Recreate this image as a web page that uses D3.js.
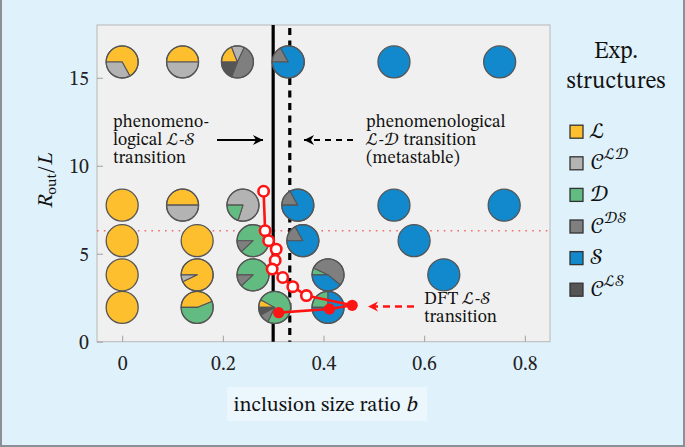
<!DOCTYPE html>
<html><head><meta charset="utf-8">
<script src="https://cdn.jsdelivr.net/npm/d3@7"></script>
<style>body{margin:0;background:#dff1fb;} svg{display:block;}</style>
</head><body>
<svg id="c" width="685" height="447"></svg>
<script>
// ---------- data ----------
const structures = ["ℒ", "𝒞ℒ𝒟", "𝒟", "𝒞𝒟𝒮", "𝒮", "𝒞ℒ𝒮"];
const structureKeys = ["L", "CLD", "D", "CDS", "S", "CLS"];
const colors = ["#fdbf2e", "#b3b3b3", "#62bb80", "#7f7f7f", "#1189cc", "#555555"];
// pie positions (b, R_out/L) and fractions [L, CLD, D, CDS, S, CLS]
const pieB = [0, 0.12, 0.229, 0.33, 0.54, 0.75,
              0, 0.12, 0.24, 0.349, 0.54, 0.759,
              0, 0.149, 0.26, 0.359, 0.58,
              0, 0.149, 0.26, 0.409, 0.639,
              0, 0.149, 0.303, 0.409];
const pieR = [15.9, 15.9, 15.9, 15.9, 15.9, 15.9,
              7.76, 7.76, 7.76, 7.76, 7.76, 7.76,
              5.74, 5.74, 5.74, 5.74, 5.74,
              3.8, 3.8, 3.8, 3.8, 3.8,
              1.95, 1.95, 1.95, 1.95];
const pieFractions = [
  [0.67,0.33,0,0,0,0], [0.5,0.5,0,0,0,0], [0.19,0.13,0,0.49,0,0.19], [0,0,0,0.17,0.83,0], [0,0,0,0,1,0], [0,0,0,0,1,0],
  [1,0,0,0,0,0], [0.5,0.5,0,0,0,0], [0,0.8,0.2,0,0,0], [0,0,0,0.17,0.83,0], [0,0,0,0,1,0], [0,0,0,0,1,0],
  [1,0,0,0,0,0], [1,0,0,0,0,0], [0,0,0.88,0.12,0,0], [0,0,0,0.17,0.83,0], [0,0,0,0,1,0],
  [1,0,0,0,0,0], [0.93,0.07,0,0,0,0], [0,0,0.88,0.12,0,0], [0,0,0.07,0.54,0.39,0], [0,0,0,0,1,0],
  [1,0,0,0,0,0], [0.44,0,0.56,0,0,0], [0.08,0,0.74,0.1,0,0.08], [0,0,0.25,0,0.75,0]
];
// DFT L-S transition curve
const dftOpenB = [0.281, 0.284, 0.291, 0.306, 0.304, 0.298, 0.319, 0.339, 0.366];
const dftOpenR = [8.55, 6.31, 5.74, 5.26, 4.62, 4.13, 3.65, 3.13, 2.62];
const dftFilledB = [0.457, 0.412, 0.311];
const dftFilledR = [2.07, 1.86, 1.65];
// transitions
const phenoLS = 0.3;       // solid
const phenoLD = 0.333;     // dashed
const metastableR = 6.31;  // red dotted
const xTicks = [0, 0.2, 0.4, 0.6, 0.8];
const xTickLabels = ["0", "0.2", "0.4", "0.6", "0.8"];
const yTicks = [0, 5, 10, 15];
const yTickLabels = ["0", "5", "10", "15"];

// ---------- drawing ----------
const FONT = "'STIX Two Math', 'STIX Two Text', 'Liberation Serif', serif";
const svg = d3.select("#c").style("font-family", FONT);
const W = 685, H = 447;
const L = 97, R = 550, T = 25, B = 341.7;
const x = d3.scaleLinear().domain([-0.05, 0.85]).range([L, R]);
const y = d3.scaleLinear().domain([0, 18]).range([B, T]);

svg.append("rect").attr("width", W).attr("height", H).attr("fill", "#dff1fb");
svg.append("path").attr("d", `M1,0 V${H-1} H${W-1} V0`).attr("fill", "none").attr("stroke", "#8a9096").attr("stroke-width", 2);

svg.append("rect").attr("x", L).attr("y", T).attr("width", R - L).attr("height", B - T)
  .attr("fill", "#f0f0f0").attr("stroke", "#b8b8b8").attr("stroke-width", 1);

// axes
const xAxis = d3.axisBottom(x).tickValues(xTicks).tickFormat((d, i) => xTickLabels[i]).tickSizeInner(-6).tickSizeOuter(0).tickPadding(14);
const gx = svg.append("g").attr("transform", `translate(0,${B})`).call(xAxis);
const yAxis = d3.axisLeft(y).tickValues(yTicks).tickFormat((d, i) => yTickLabels[i]).tickSizeInner(-6).tickSizeOuter(0).tickPadding(14);
const gy = svg.append("g").attr("transform", `translate(${L},0)`).call(yAxis);
[gx, gy].forEach(g => {
  g.attr("font-family", null);
  g.select(".domain").remove();
  g.selectAll(".tick line").attr("stroke", "#a0a0a0");
  g.selectAll(".tick text").style("font-family", FONT).attr("font-size", 20).attr("fill", "#222");
});
gy.selectAll(".tick text").attr("x", -8);

// red dotted horizontal line
svg.append("line").attr("x1", L).attr("x2", R).attr("y1", y(metastableR)).attr("y2", y(metastableR))
  .attr("stroke", "#f26b6b").attr("stroke-width", 1.6).attr("stroke-dasharray", "1.6,5.2");

// vertical transition lines
svg.append("line").attr("x1", x(phenoLS)).attr("x2", x(phenoLS)).attr("y1", T).attr("y2", B)
  .attr("stroke", "#000").attr("stroke-width", 3.2);
svg.append("line").attr("x1", x(phenoLD)).attr("x2", x(phenoLD)).attr("y1", T + 3).attr("y2", B)
  .attr("stroke", "#000").attr("stroke-width", 3.2).attr("stroke-dasharray", "7,5.5");

// pies
const pie = d3.pie().sort(null).startAngle(-Math.PI / 2).endAngle(3 * Math.PI / 2);
const arc = d3.arc().innerRadius(0).outerRadius(16);
pieB.forEach((b, i) => {
  const g = svg.append("g").attr("transform", `translate(${x(b)},${y(pieR[i])})`);
  const fr = pieFractions[i];
  const nz = fr.filter(v => v > 0).length;
  if (nz === 1) {
    g.append("circle").attr("r", 16).attr("fill", colors[fr.findIndex(v => v > 0)])
      .attr("stroke", "#555").attr("stroke-width", 1.3);
  } else {
    g.selectAll("path").data(pie(fr).filter(d => d.data > 0)).join("path")
      .attr("d", arc).attr("fill", d => colors[d.index])
      .attr("stroke", "#555").attr("stroke-width", 1.1).attr("stroke-linejoin", "round");
    g.append("circle").attr("r", 16).attr("fill", "none").attr("stroke", "#555").attr("stroke-width", 1.3);
  }
});

// DFT curve
const red = "#ff1414";
const openPts = dftOpenB.map((b, i) => [x(b), y(dftOpenR[i])]);
const filledPts = dftFilledB.map((b, i) => [x(b), y(dftFilledR[i])]);
const line = d3.line();
svg.append("path").attr("d", line(openPts.concat([filledPts[0]]))).attr("fill", "none").attr("stroke", red).attr("stroke-width", 2.6);
svg.append("path").attr("d", line(filledPts)).attr("fill", "none").attr("stroke", red).attr("stroke-width", 2.6);
svg.selectAll("circle.open").data(openPts).join("circle").attr("class", "open")
  .attr("cx", d => d[0]).attr("cy", d => d[1]).attr("r", 5.2)
  .attr("fill", "#fff").attr("stroke", red).attr("stroke-width", 2.6);
svg.selectAll("circle.fill").data(filledPts).join("circle").attr("class", "fill")
  .attr("cx", d => d[0]).attr("cy", d => d[1]).attr("r", 5.6).attr("fill", red);

// markers
const defs = svg.append("defs");
function marker(id, col) {
  defs.append("marker").attr("id", id).attr("viewBox", "-10 -6 12 12").attr("refX", 0).attr("refY", 0)
    .attr("markerWidth", 12).attr("markerHeight", 12).attr("markerUnits", "userSpaceOnUse").attr("orient", "auto")
    .append("path").attr("d", "M-10,-5 L0,0 L-10,5 L-7,0 Z").attr("fill", col);
}
marker("ahBlack", "#000");
marker("ahRed", red);

// annotations
const fs = 17.8;
function multiline(xp, ys, lines) {
  lines.forEach((l, i) => {
    svg.append("text").attr("x", xp).attr("y", ys + i * 18).attr("font-size", fs).attr("fill", "#111").text(l);
  });
}
multiline(113, 127, ["phenomeno-", "logical ℒ-𝒮", "transition"]);
multiline(366, 127, ["phenomenological", "ℒ-𝒟 transition", "(metastable)"]);
multiline(424, 304, ["DFT ℒ-𝒮", "transition"]);

const ay = 140;
svg.append("line").attr("x1", 217).attr("x2", 263).attr("y1", ay).attr("y2", ay)
  .attr("stroke", "#000").attr("stroke-width", 2.2).attr("marker-end", "url(#ahBlack)");
svg.append("line").attr("x1", 353).attr("x2", 304).attr("y1", ay).attr("y2", ay)
  .attr("stroke", "#000").attr("stroke-width", 2.2).attr("stroke-dasharray", "6,5").attr("marker-end", "url(#ahBlack)");
svg.append("line").attr("x1", 414).attr("x2", 368).attr("y1", y(2.0)).attr("y2", y(2.0))
  .attr("stroke", red).attr("stroke-width", 2.6).attr("stroke-dasharray", "7,5").attr("marker-end", "url(#ahRed)");

// axis titles
const yl = svg.append("text").attr("transform", `translate(52,181) rotate(-90)`).attr("text-anchor", "middle")
  .attr("font-size", 21).attr("fill", "#111");
yl.append("tspan").attr("font-style", "italic").text("R");
yl.append("tspan").attr("font-size", 15).attr("dy", 4).text("out");
yl.append("tspan").attr("dy", -4).text("/");
yl.append("tspan").attr("font-style", "italic").text("L");

svg.append("rect").attr("x", 227).attr("y", 387).attr("width", 200).attr("height", 34).attr("fill", "#ebf6fd");
const xl = svg.append("text").attr("x", 325).attr("y", 411).attr("text-anchor", "middle").attr("font-size", 21).attr("fill", "#111");
xl.append("tspan").text("inclusion size ratio ");
xl.append("tspan").attr("font-style", "italic").text("b");

// legend
svg.append("text").attr("x", 616).attr("y", 58).attr("text-anchor", "middle").attr("font-size", 23.5).attr("fill", "#111").text("Exp.");
svg.append("text").attr("x", 616).attr("y", 88).attr("text-anchor", "middle").attr("font-size", 23.5).attr("fill", "#111").text("structures");
const legLabels = [["ℒ", ""], ["𝒞", "ℒ𝒟"], ["𝒟", ""], ["𝒞", "𝒟𝒮"], ["𝒮", ""], ["𝒞", "ℒ𝒮"]];
structureKeys.forEach((k, i) => {
  const cy = 131.7 + i * 31.6;
  svg.append("rect").attr("x", 570).attr("y", cy - 6.5).attr("width", 13).attr("height", 13)
    .attr("fill", colors[i]).attr("stroke", "#333").attr("stroke-width", 1.3);
  const t = svg.append("text").attr("x", 590).attr("y", cy + 6).attr("font-size", 22).attr("fill", "#111");
  t.append("tspan").text(legLabels[i][0]);
  if (legLabels[i][1]) t.append("tspan").attr("font-size", 16).attr("dy", -10).text(legLabels[i][1]);
});
</script>
</body></html>
